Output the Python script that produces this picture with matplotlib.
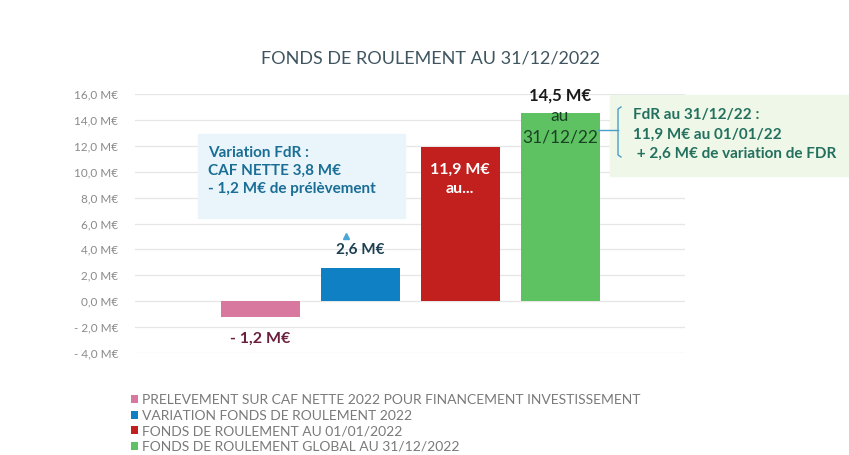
import matplotlib.pyplot as plt
from matplotlib.ticker import FuncFormatter

plt.rcParams['font.family'] = ['Lato', 'DejaVu Sans']

# Donnees du graphique
libelles = ['PRELEVEMENT SUR CAF NETTE 2022 POUR FINANCEMENT INVESTISSEMENT',
            'VARIATION FONDS DE ROULEMENT 2022',
            'FONDS DE ROULEMENT AU 01/01/2022',
            'FONDS DE ROULEMENT GLOBAL AU 31/12/2022']
valeurs = [-1.2, 2.6, 11.9, 14.5]
couleurs = ['#d9789f', '#0f80c4', '#c2201f', '#5ec262']
etiquettes = ['- 1,2 M€', '2,6 M€', '11,9 M€\nau...', '14,5 M€']

fig = plt.figure(figsize=(8.49, 4.55), dpi=100)
ax = fig.add_axes([135/849, 1-353/455, 550/849, 259/455])

x = list(range(len(valeurs)))
for i in x:
    ax.bar(i, valeurs[i], width=0.79, color=couleurs[i], label=libelles[i], zorder=2)

ax.set_xlim(-1.25, 4.25)
ax.set_ylim(-4, 16)
ax.set_yticks(range(-4, 17, 2))
ax.yaxis.set_major_formatter(FuncFormatter(
    lambda v, p: ('- ' if v < 0 else '') + ('%.1f M€' % abs(v)).replace('.', ',')))
ax.tick_params(axis='y', length=0, labelsize=8.5, labelcolor='#8a8a8a', pad=12)
ax.set_xticks([])
ax.grid(axis='y', color='#e6e6e6', lw=0.9, zorder=0)
for s in ax.spines.values():
    s.set_visible(False)

# Titre
fig.text(430/849, 1-58/455, 'FONDS DE ROULEMENT AU 31/12/2022', ha='center', va='center',
         fontsize=13, color='#3f5560')

# Etiquettes des barres
ax.text(0, valeurs[0] - 1.2, etiquettes[0], ha='center', va='top', fontsize=11.5,
        fontweight='bold', color='#6a1f3c')
ax.text(1, valeurs[1] + 0.8, etiquettes[1], ha='center', va='bottom', fontsize=11,
        fontweight='bold', color='#1d3f52')
ax.text(2, valeurs[2] - 1.2, etiquettes[2], ha='center', va='top', fontsize=11.5,
        fontweight='bold', color='white', linespacing=1.45)
ax.text(3, valeurs[3] + 0.8, etiquettes[3], ha='center', va='bottom', fontsize=12,
        fontweight='bold', color='#1a1a1a')
ax.text(3, valeurs[3] + 0.45, 'au\n31/12/22', ha='center', va='top', fontsize=12.5,
        color='#1a4224', linespacing=1.45)

# Encadre variation FdR
fig.patches.append(plt.Rectangle((198/849, 1-218/455), 207/849, 84/455,
                                 transform=fig.transFigure, color='#e9f5fb', zorder=0))
fig.text(208/849, 1-146/455, 'Variation FdR :\nCAF NETTE 3,8 M€\n- 1,2 M€ de prélèvement',
         ha='left', va='top', fontsize=11, fontweight='bold', color='#1a6e95',
         linespacing=1.38)
ax.plot(1 - 0.14, 5.0, marker='^', ms=5, color='#4aa6d6', zorder=3, clip_on=False)

# Encadre FdR au 31/12/22
fig.patches.append(plt.Rectangle((610/849, 1-176/455), 239/849, 81/455,
                                 transform=fig.transFigure, color='#eef7e8', zorder=0))
fig.text(633/849, 1-108/455, 'FdR au 31/12/22 :\n11,9 M€ au 01/01/22\n + 2,6 M€ de variation de FDR',
         ha='left', va='top', fontsize=11, fontweight='bold', color='#23705e',
         linespacing=1.5)
fig.lines.append(plt.Line2D([598/849, 618/849], [1-130/455, 1-130/455],
                            transform=fig.transFigure, color='#4a9fc9', lw=1))
fig.lines.append(plt.Line2D([621/849, 618/849, 618/849, 621/849],
                            [1-107/455, 1-109/455, 1-155/455, 1-157/455],
                            transform=fig.transFigure, color='#4a9fc9', lw=1))

# Legende
ax.legend(loc='upper left', bbox_to_anchor=(124/849, 1-387/455),
          bbox_transform=fig.transFigure, frameon=False, fontsize=10,
          labelcolor='#7a7a7a', handlelength=0.5, handleheight=0.5,
          handletextpad=0.3, labelspacing=0.26, borderpad=0)

fig.savefig('out.png', dpi=100)
